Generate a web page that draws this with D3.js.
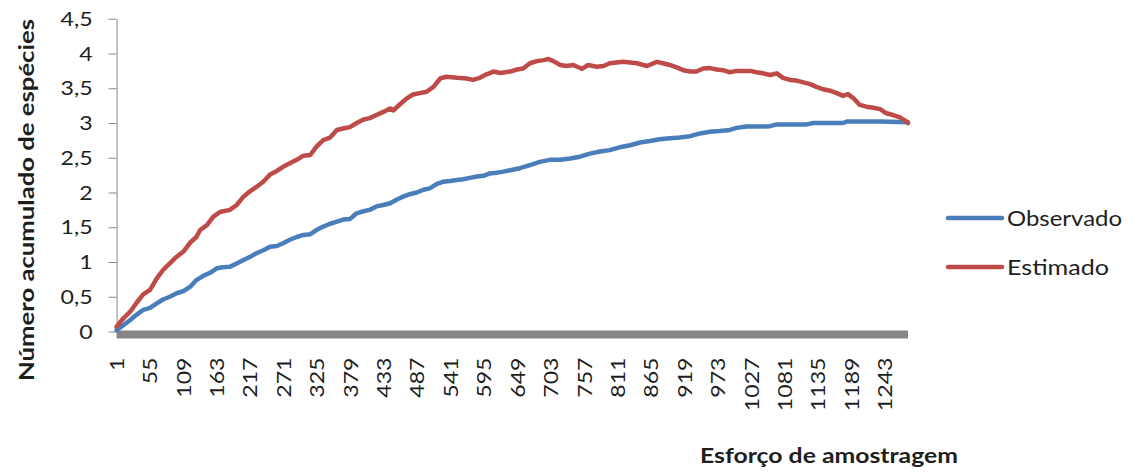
<!DOCTYPE html>
<html>
<head>
<meta charset="utf-8">
<script src="https://cdnjs.cloudflare.com/ajax/libs/d3/7.8.5/d3.min.js"></script>
<style>
  html, body { margin: 0; padding: 0; background: #fff; }
  #chart { width: 1134px; height: 472px; }
  text { font-family: Lato, "Open Sans", sans-serif; fill: #1e1e1e; }
</style>
</head>
<body>
<div id="chart"></div>
<script>
// valores (esforço = nº da amostra)
var nAmostras = 1280;
var xTickLabels = [1, 55, 109, 163, 217, 271, 325, 379, 433, 487, 541, 595, 649, 703,
                   757, 811, 865, 919, 973, 1027, 1081, 1135, 1189, 1243];
var yTicks = [0, 0.5, 1, 1.5, 2, 2.5, 3, 3.5, 4, 4.5];

var esforcoObs = [1, 12, 23, 33, 44, 55, 66, 76, 87, 98, 109, 120, 130, 141, 152, 163, 173, 184,
  195, 206, 217, 227, 238, 249, 260, 270, 281, 292, 303, 314, 324, 335, 346, 357, 367, 378, 389,
  400, 410, 421, 432, 443, 454, 464, 475, 486, 497, 507, 518, 529, 540, 551, 561, 572, 583, 594,
  604, 615, 626, 637, 653, 669, 685, 701, 718, 734, 750, 766, 782, 798, 814, 831, 847, 863, 879,
  895, 911, 928, 944, 960, 976, 992, 1003, 1019, 1041, 1057, 1068, 1089, 1116, 1127, 1175, 1181,
  1235, 1280];
var observado = [0.02, 0.09, 0.165, 0.24, 0.31, 0.34, 0.405, 0.46, 0.50, 0.55, 0.58, 0.645, 0.74,
  0.80, 0.845, 0.91, 0.925, 0.93, 0.98, 1.03, 1.076, 1.125, 1.17, 1.22, 1.23, 1.27, 1.32, 1.36,
  1.39, 1.40, 1.46, 1.51, 1.55, 1.58, 1.61, 1.62, 1.70, 1.73, 1.75, 1.80, 1.82, 1.845, 1.90, 1.94,
  1.975, 2.00, 2.04, 2.06, 2.12, 2.155, 2.165, 2.18, 2.19, 2.21, 2.23, 2.24, 2.275, 2.285, 2.30,
  2.32, 2.35, 2.395, 2.44, 2.47, 2.47, 2.49, 2.515, 2.56, 2.59, 2.61, 2.65, 2.68, 2.72, 2.74,
  2.765, 2.78, 2.79, 2.81, 2.85, 2.875, 2.885, 2.90, 2.93, 2.95, 2.95, 2.955, 2.98, 2.98, 2.98,
  3.00, 3.00, 3.02, 3.02, 3.01];

var esforcoEst = [1, 12, 23, 33, 44, 55, 66, 76, 87, 98, 109, 120, 130, 136, 147, 157, 168, 184,
  195, 206, 217, 227, 238, 249, 260, 270, 281, 292, 303, 314, 324, 335, 346, 357, 367, 378, 389,
  400, 410, 421, 432, 443, 448, 459, 470, 480, 491, 502, 513, 524, 534, 551, 567, 577, 588, 599,
  610, 621, 637, 648, 658, 669, 680, 691, 699, 707, 718, 728, 739, 753, 763, 777, 788, 798, 809,
  820, 831, 842, 858, 874, 884, 895, 906, 917, 928, 938, 949, 960, 971, 981, 992, 1003, 1014,
  1025, 1035, 1046, 1057, 1068, 1078, 1089, 1100, 1111, 1122, 1132, 1143, 1154, 1165, 1175,
  1183, 1192, 1202, 1213, 1224, 1235, 1245, 1256, 1267, 1278, 1280];
var estimado = [0.07, 0.19, 0.285, 0.41, 0.535, 0.60, 0.765, 0.885, 0.98, 1.076, 1.15, 1.28, 1.36,
  1.46, 1.53, 1.65, 1.72, 1.75, 1.82, 1.94, 2.02, 2.08, 2.155, 2.26, 2.31, 2.37, 2.42, 2.47, 2.53,
  2.54, 2.66, 2.755, 2.79, 2.90, 2.92, 2.94, 3.00, 3.05, 3.07, 3.115, 3.16, 3.21, 3.18, 3.27,
  3.355, 3.41, 3.43, 3.45, 3.52, 3.64, 3.665, 3.65, 3.64, 3.62, 3.65, 3.70, 3.74, 3.72, 3.74,
  3.77, 3.785, 3.86, 3.89, 3.905, 3.92, 3.89, 3.835, 3.82, 3.835, 3.78, 3.835, 3.81, 3.82, 3.86,
  3.87, 3.88, 3.87, 3.86, 3.82, 3.88, 3.86, 3.835, 3.80, 3.76, 3.74, 3.74, 3.785, 3.79, 3.77,
  3.76, 3.73, 3.75, 3.75, 3.75, 3.73, 3.715, 3.69, 3.715, 3.65, 3.62, 3.61, 3.585, 3.56, 3.52,
  3.485, 3.465, 3.43, 3.39, 3.415, 3.355, 3.26, 3.235, 3.22, 3.20, 3.14, 3.115, 3.08, 3.02, 3.00];

var series = [
  { nome: "Observado", x: esforcoObs, y: observado, cor: "#4a7ebb" },
  { nome: "Estimado",  x: esforcoEst, y: estimado,  cor: "#be4b48" }
];

var W = 1134, H = 472;
var plotLeft = 116.6, plotRight = 908, plotTop = 18.75, plotBottom = 331.5;
var gray = "#868686";

var svg = d3.select("#chart").append("svg")
  .attr("width", W)
  .attr("height", H);

var x = d3.scaleLinear().domain([1, nAmostras]).range([plotLeft, plotRight]);
var y = d3.scaleLinear().domain([0, 4.5]).range([plotBottom, plotTop]);

// eixo y
var yAxis = svg.append("g")
  .attr("transform", "translate(" + plotLeft + ",0)")
  .call(d3.axisLeft(y).tickValues(yTicks).tickSize(8).tickSizeOuter(0)
    .tickFormat(function(d){ return String(d).replace(".", ","); }));
yAxis.select(".domain").attr("stroke", gray);
yAxis.selectAll(".tick line").attr("stroke", gray);
yAxis.selectAll(".tick text")
  .attr("x", null)
  .attr("dy", "0.36em")
  .attr("transform", "translate(-24,0) scale(1.25,1)")
  .style("font-size", "18.5px")
  .style("fill", "#1e1e1e");

// barra cinza do eixo x
svg.append("rect")
  .attr("x", plotLeft)
  .attr("y", plotBottom - 1)
  .attr("width", plotRight - plotLeft)
  .attr("height", 8)
  .attr("fill", gray);

// eixo x (rótulos na vertical)
var xAxis = svg.append("g")
  .attr("transform", "translate(0," + plotBottom + ")")
  .call(d3.axisBottom(x).tickValues(xTickLabels).tickSize(0).tickFormat(d3.format("d")));
xAxis.select(".domain").remove();
xAxis.selectAll(".tick text")
  .attr("y", null)
  .attr("dy", "0.36em")
  .attr("text-anchor", "end")
  .attr("transform", "translate(0,26) rotate(-90) scale(1.25,1)")
  .style("font-size", "18.5px")
  .style("fill", "#1e1e1e");

// linhas
var line = d3.line()
  .x(function(d){ return x(d[0]); })
  .y(function(d){ return y(d[1]); });

series.forEach(function(s){
  svg.append("path")
    .datum(d3.zip(s.x, s.y))
    .attr("fill", "none")
    .attr("stroke", s.cor)
    .attr("stroke-width", 4.5)
    .attr("stroke-linejoin", "round")
    .attr("stroke-linecap", "round")
    .attr("d", line);
});

// títulos dos eixos
svg.append("text")
  .attr("transform", "translate(34,200) rotate(-90)")
  .attr("text-anchor", "middle")
  .attr("textLength", 362)
  .attr("lengthAdjust", "spacingAndGlyphs")
  .style("font-size", "21px")
  .style("font-weight", "bold")
  .text("Número acumulado de espécies");

svg.append("text")
  .attr("x", 700)
  .attr("y", 463)
  .attr("textLength", 258)
  .attr("lengthAdjust", "spacingAndGlyphs")
  .style("font-size", "21px")
  .style("font-weight", "bold")
  .text("Esforço de amostragem");

// legenda
var legend = svg.append("g").attr("transform", "translate(948,218)");
var item = legend.selectAll("g").data(series).enter().append("g")
  .attr("transform", function(d, i){ return "translate(0," + (i * 49) + ")"; });
item.append("line")
  .attr("x1", 0).attr("x2", 54)
  .attr("stroke", function(d){ return d.cor; })
  .attr("stroke-width", 4.5)
  .attr("stroke-linecap", "round");
item.append("text")
  .attr("x", 59)
  .attr("dy", "0.36em")
  .attr("textLength", function(d){ return d.nome == "Observado" ? 115 : 102; })
  .attr("lengthAdjust", "spacingAndGlyphs")
  .style("font-size", "21px")
  .text(function(d){ return d.nome; });
</script>
</body>
</html>
